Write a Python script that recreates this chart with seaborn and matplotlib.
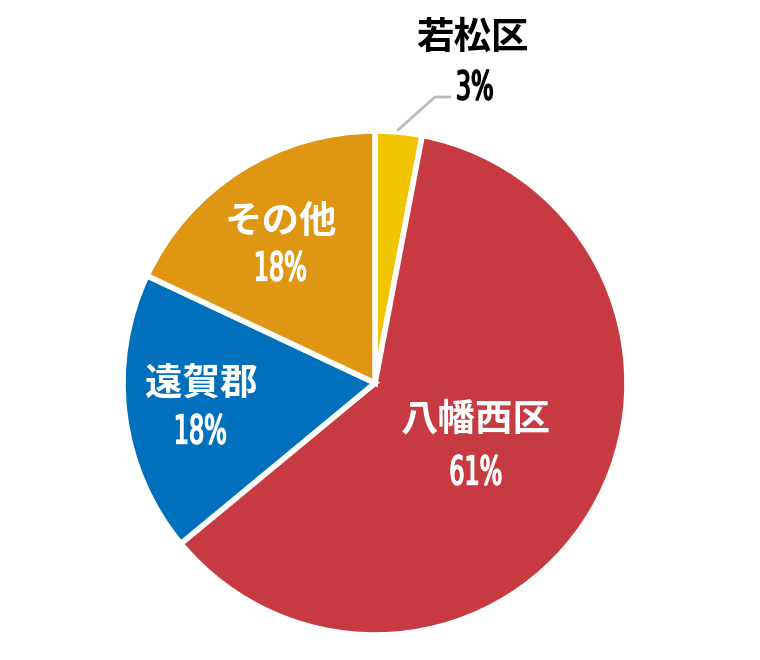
import matplotlib
matplotlib.use("Agg")
import matplotlib.pyplot as plt
import seaborn as sns
from matplotlib.textpath import TextPath
from matplotlib.patches import PathPatch
from matplotlib.font_manager import FontProperties
from matplotlib.transforms import Affine2D

# === DATA ===
labels = ["若松区", "八幡西区", "遠賀郡", "その他"]
shares = [3, 61, 18, 18]
colors = ["#F0C400", "#C83A41", "#0070BC", "#DE9613"]

sns.set_theme(style="white")
plt.rcParams["font.family"] = ["Noto Sans CJK JP", "DejaVu Sans"]

fig = plt.figure(figsize=(7.6, 6.6), dpi=100)
ax = fig.add_axes([0, 0, 1, 1])

H = 660  # axes units == pixels, y flipped by hand


def narrow_text(x, y, s, color, height=29, sx=0.6):
    # condensed number text: glyph outline squeezed horizontally
    fp = FontProperties(family="DejaVu Sans", weight="normal")
    tp = TextPath((0, 0), s, size=height / 0.73, prop=fp)
    bb = tp.get_extents()
    tr = (Affine2D().translate(-(bb.x0 + bb.x1) / 2, -(bb.y0 + bb.y1) / 2)
          .scale(sx, 1).translate(x, H - y))
    ax.add_patch(PathPatch(tr.transform_path(tp), facecolor=color,
                           edgecolor=color, lw=1.1))


cx, cy, r = 375, 383, 252
ax.pie(shares, colors=colors, startangle=90, counterclock=False,
       center=(cx, H - cy), radius=r,
       wedgeprops=dict(edgecolor="white", linewidth=4))
ax.set_xlim(0, 760)
ax.set_ylim(0, H)
ax.set_aspect("equal")
ax.axis("off")

# (name center, percent center) in pixels from top-left
inside = {1: ((476, 419), (476, 470)),
          2: ((201, 384), (201, 429)),
          3: ((281, 221), (281, 266))}
for i, (p1, p2) in inside.items():
    ax.text(p1[0], H - p1[1], labels[i], color="white", fontsize=27,
            fontweight="bold", ha="center", va="center")
    narrow_text(p2[0], p2[1], f"{shares[i]}%", "white")

# outside label for the small slice
ax.plot([398, 435, 450], [H - 130, H - 97, H - 97], color="#BBBBBB", lw=2)
ax.text(473, H - 37, labels[0], color="black", fontsize=27, fontweight="bold",
        ha="center", va="center")
narrow_text(475, 85, f"{shares[0]}%", "black")

fig.savefig("out.png", dpi=100)
